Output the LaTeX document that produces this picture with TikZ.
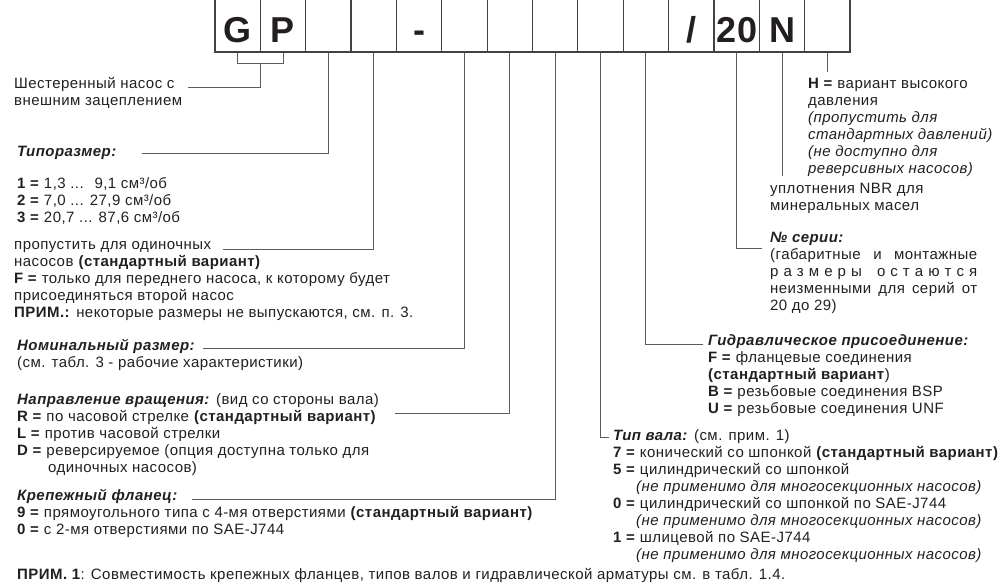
\documentclass[tikz,border=0pt]{standalone}
\usepackage{fontspec}
\setmainfont{Liberation Sans}[LetterSpace=3]
\usetikzlibrary{positioning}
\definecolor{ink}{HTML}{231F20}
\definecolor{leadgray}{HTML}{5C5C5C}

\tikzset{
  cell/.style={draw=ink!85, line width=1.1pt, minimum width=45.36pt,
    minimum height=62pt, inner sep=0pt, text height=42pt, text depth=0pt,
    font=\fontsize{36}{36}\selectfont\bfseries, text=ink},
  lead/.style={draw=leadgray, line width=1pt},
  txt/.style={anchor=north west, inner sep=0pt, align=left,
    font=\fontsize{15}{17}\selectfont, text=ink},
}
\newcommand{\hdr}[1]{\textbf{\textit{#1}}}
\newcommand{\nap}{\hspace*{23pt}}

\begin{document}
\begin{tikzpicture}[x=1pt,y=-1pt]
  \useasboundingbox (0,0) rectangle (1000,584);
  \clip (0,0) rectangle (1000,584);

  % Code boxes
  \node[cell] (b1)  at (237.7,21) {G};
  \node[cell] (b2)  at (283.0,21) {P};
  \node[cell] (b3)  at (328.4,21) {};
  \node[cell] (b4)  at (373.7,21) {};
  \node[cell] (b5)  at (419.1,21) {-};
  \node[cell] (b6)  at (464.5,21) {};
  \node[cell] (b7)  at (509.8,21) {};
  \node[cell] (b8)  at (555.2,21) {};
  \node[cell] (b9)  at (600.5,21) {};
  \node[cell] (b10) at (645.9,21) {};
  \node[cell] (b11) at (691.3,21) {/};
  \node[cell] (b12) at (736.6,21) {20};
  \node[cell] (b13) at (782.0,21) {N};
  \node[cell] (b14) at (827.3,21) {};

  % Left column
  \node[txt] (gp) at (14,77) {Шестеренный насос с\\внешним зацеплением};
  \node[txt] (tipo) at (17,146) {\hdr{Типоразмер:}};
  \node[txt] (sizes) at (17,177) {\textbf{1 =} 1,3 ... \ 9,1 см³/об\\
    \textbf{2 =} 7,0 ... 27,9 см³/об\\
    \textbf{3 =} 20,7 ... 87,6 см³/об};
  \node[txt] (single) at (14,241) {пропустить для одиночных\\
    насосов \textbf{(стандартный вариант)}\\
    \textbf{F =} только для переднего насоса, к которому будет\\
    присоединяться второй насос\\
    \textbf{ПРИМ.:} некоторые размеры не выпускаются, см. п. 3.};
  \node[txt] (nom) at (17,339) {\hdr{Номинальный размер:}\\
    (см. табл. 3 - рабочие характеристики)};
  \node[txt] (rot) at (17,393) {\hdr{Направление вращения:} (вид со стороны вала)\\
    \textbf{R =} по часовой стрелке \textbf{(стандартный вариант)}\\
    \textbf{L =} против часовой стрелки\\
    \textbf{D =} реверсируемое (опция доступна только для\\
    \hspace*{31pt}одиночных насосов)};
  \node[txt] (flange) at (17,489) {\hdr{Крепежный фланец:}\\
    \textbf{9 =} прямоугольного типа с 4-мя отверстиями \textbf{(стандартный вариант)}\\
    \textbf{0 =} с 2-мя отверстиями по SAE-J744};
  \node[txt] (note) at (17,568) {\textbf{ПРИМ. 1}: Совместимость крепежных фланцев, типов валов и гидравлической арматуры см. в табл. 1.4.};

  % Right column
  \node[txt] (high) at (808,78) {\textbf{H =} вариант высокого\\
    давления\\
    \textit{(пропустить для}\\
    \textit{стандартных давлений)}\\
    \textit{(не доступно для}\\
    \textit{реверсивных насосов)}};
  \node[txt] (seal) at (770,183) {уплотнения NBR для\\минеральных масел};
  \node[txt] (series) at (770,232) {\hdr{№ серии:}\\
    \makebox[207pt][s]{(габаритные и монтажные}\\
    \makebox[207pt][s]{р а з м е р ы \ \ о с т а ю т с я}\\
    \makebox[207pt][s]{неизменными для серий от}\\
    20 до 29)};
  \node[txt] (hyd) at (708,334) {\hdr{Гидравлическое присоединение:}\\
    \textbf{F =} фланцевые соединения\\
    \textbf{(стандартный вариант})\\
    \textbf{B =} резьбовые соединения BSP\\
    \textbf{U =} резьбовые соединения UNF};
  \node[txt] (shaft) at (613,429) {\hdr{Тип вала:} (см. прим. 1)\\
    \textbf{7 =} конический со шпонкой \textbf{(стандартный вариант)}\\
    \textbf{5 =} цилиндрический со шпонкой\\
    \nap\textit{(не применимо для многосекционных насосов)}\\
    \textbf{0 =} цилиндрический со шпонкой по SAE-J744\\
    \nap\textit{(не применимо для многосекционных насосов)}\\
    \textbf{1 =} шлицевой по SAE-J744\\
    \nap\textit{(не применимо для многосекционных насосов)}};

  % Leader ends
  \coordinate (gpend) at (188,87);
  \coordinate (tipoend) at (142,153);
  \coordinate (singend) at (223,249);
  \coordinate (nomend) at (203,348);
  \coordinate (rotend) at (395,413);
  \coordinate (flend) at (192,499);
  \coordinate (shend) at (609,437);
  \coordinate (hydend) at (703,344);
  \coordinate (serend) at (762,248);
  \coordinate (sealend) at (782,176);
  \coordinate (hend) at (823,72);

  % Leaders
  \draw[lead] (b1.south) -- ++(0,11) -| (b2.south);
  \draw[lead] (b1.south east) ++(0,11) |- (gpend);
  \draw[lead] (b3.south) |- (tipoend);
  \draw[lead] (b4.south) |- (singend);
  \draw[lead] (b6.south) |- (nomend);
  \draw[lead] (b7.south) |- (rotend);
  \draw[lead] (b8.south) |- (flend);
  \draw[lead] (b9.south) |- (shend);
  \draw[lead] (b10.south) |- (hydend);
  \draw[lead] (b12.south) |- (serend);
  \draw[lead] (b13.south) -- (b13.south |- sealend);
  \draw[lead] (b14.south) -- (b14.south |- hend);
\end{tikzpicture}
\end{document}
